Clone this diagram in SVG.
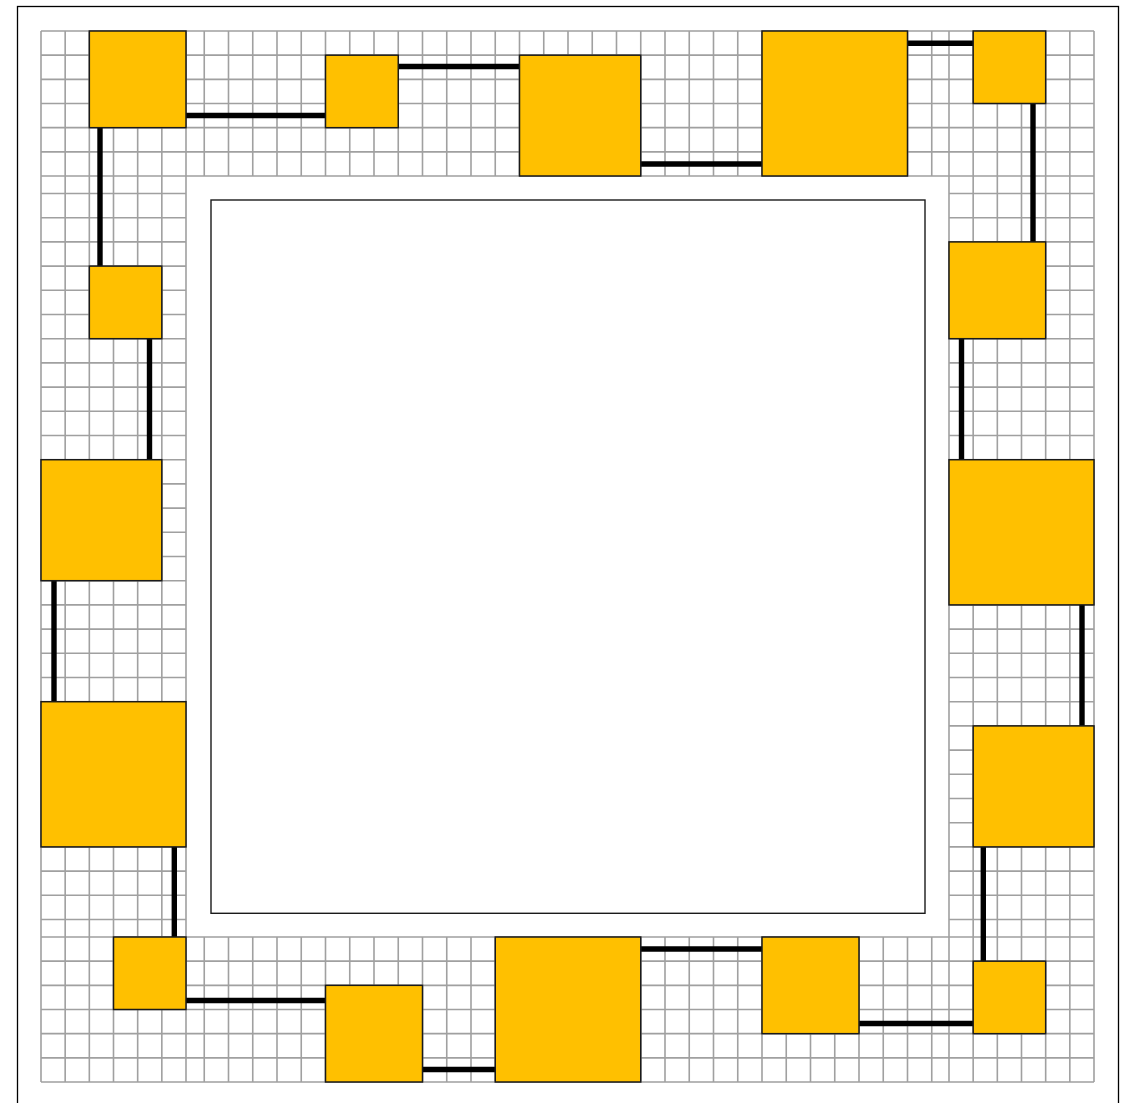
<svg xmlns="http://www.w3.org/2000/svg" width="1132" height="1103" viewBox="0 0 1132 1103">
<style>
.frame{fill:#fff;stroke:#000;stroke-width:1.3}
.grid{fill:none;stroke:#a0a0a0;stroke-width:1.6}
.core{fill:#fff;stroke:#1a1a1a;stroke-width:1.4}
.wire{fill:none;stroke:#000;stroke-width:5.4;stroke-linecap:butt}
.node{fill:#ffc000;stroke:#1a1a1a;stroke-width:1.5}
</style>
<rect class="frame" x="17.5" y="6.5" width="1101" height="1104"/>
<g id="grid">
<path class="grid" d="M41 31H1094M41 55.17H1094M41 79.33H1094M41 103.5H1094M41 127.67H1094M41 151.83H1094M41 176H1094
M41 937H1094M41 961.17H1094M41 985.33H1094M41 1009.5H1094M41 1033.67H1094M41 1057.83H1094M41 1082H1094
M41 31V1082M65.17 31V1082M89.33 31V1082M113.5 31V1082M137.67 31V1082M161.83 31V1082M186 31V1082
M949 31V1082M973.17 31V1082M997.33 31V1082M1021.5 31V1082M1045.67 31V1082M1069.83 31V1082M1094 31V1082"/>
<path class="grid" d="M204.25 31V176M228.5 31V176M252.75 31V176M277 31V176M301.25 31V176M325.5 31V176M349.75 31V176M374 31V176M398.25 31V176M422.5 31V176M446.75 31V176M471 31V176M495.25 31V176M519.5 31V176M543.75 31V176M568 31V176M592.25 31V176M616.5 31V176M640.75 31V176M665 31V176M689.25 31V176M713.5 31V176M737.75 31V176M762 31V176M786.25 31V176M810.5 31V176M834.75 31V176M859 31V176M883.25 31V176M907.5 31V176M931.75 31V176
M204.25 937V1082M228.5 937V1082M252.75 937V1082M277 937V1082M301.25 937V1082M325.5 937V1082M349.75 937V1082M374 937V1082M398.25 937V1082M422.5 937V1082M446.75 937V1082M471 937V1082M495.25 937V1082M519.5 937V1082M543.75 937V1082M568 937V1082M592.25 937V1082M616.5 937V1082M640.75 937V1082M665 937V1082M689.25 937V1082M713.5 937V1082M737.75 937V1082M762 937V1082M786.25 937V1082M810.5 937V1082M834.75 937V1082M859 937V1082M883.25 937V1082M907.5 937V1082M931.75 937V1082"/>
<path class="grid" d="M41 193.5H186M41 217.7H186M41 241.9H186M41 266.1H186M41 290.3H186M41 314.5H186M41 338.7H186M41 362.9H186M41 387.1H186M41 411.3H186M41 435.5H186M41 459.7H186M41 483.9H186M41 508.1H186M41 532.3H186M41 556.5H186M41 580.7H186M41 604.9H186M41 629.1H186M41 653.3H186M41 677.5H186M41 701.7H186M41 725.9H186M41 750.1H186M41 774.3H186M41 798.5H186M41 822.7H186M41 846.9H186M41 871.1H186M41 895.3H186M41 919.5H186
M949 193.5H1094M949 217.7H1094M949 241.9H1094M949 266.1H1094M949 290.3H1094M949 314.5H1094M949 338.7H1094M949 362.9H1094M949 387.1H1094M949 411.3H1094M949 435.5H1094M949 459.7H1094M949 483.9H1094M949 508.1H1094M949 532.3H1094M949 556.5H1094M949 580.7H1094M949 604.9H1094M949 629.1H1094M949 653.3H1094M949 677.5H1094M949 701.7H1094M949 725.9H1094M949 750.1H1094M949 774.3H1094M949 798.5H1094M949 822.7H1094M949 846.9H1094M949 871.1H1094M949 895.3H1094M949 919.5H1094"/>
</g>
<rect id="core" class="core" x="211" y="200" width="714" height="713.3"/>
<g id="connectors">
<path class="wire" d="M100 127.67V266.1"/>
<path class="wire" d="M186 115.5H325.5"/>
<path class="wire" d="M398.25 66.5H519.5"/>
<path class="wire" d="M640.75 164H762"/>
<path class="wire" d="M907.5 43.3H973.17"/>
<path class="wire" d="M1033 103.5V241.9"/>
<path class="wire" d="M961.5 338.7V459.7"/>
<path class="wire" d="M1082 604.9V725.9"/>
<path class="wire" d="M983.3 846.9V961.17"/>
<path class="wire" d="M859 1023.5H973.17"/>
<path class="wire" d="M640.75 949H762"/>
<path class="wire" d="M422.5 1069.5H495.25"/>
<path class="wire" d="M186 1000.5H325.5"/>
<path class="wire" d="M174.3 846.9V937"/>
<path class="wire" d="M54 580.7V701.7"/>
<path class="wire" d="M149.5 338.7V459.7"/>
</g>
<g id="node-a"><rect class="node" x="89.33" y="31" width="96.67" height="96.67"/></g>
<g id="node-b"><rect class="node" x="325.5" y="55.17" width="72.75" height="72.5"/></g>
<g id="node-c"><rect class="node" x="519.5" y="55.17" width="121.25" height="120.83"/></g>
<g id="node-d"><rect class="node" x="762" y="31" width="145.5" height="145"/></g>
<g id="node-e"><rect class="node" x="973.17" y="31" width="72.5" height="72.5"/></g>
<g id="node-f"><rect class="node" x="949" y="241.9" width="96.67" height="96.8"/></g>
<g id="node-g"><rect class="node" x="949" y="459.7" width="145" height="145.2"/></g>
<g id="node-h"><rect class="node" x="973.17" y="725.9" width="120.83" height="121"/></g>
<g id="node-i"><rect class="node" x="973.17" y="961.17" width="72.5" height="72.5"/></g>
<g id="node-j"><rect class="node" x="762" y="937" width="97" height="96.67"/></g>
<g id="node-k"><rect class="node" x="495.25" y="937" width="145.5" height="145"/></g>
<g id="node-l"><rect class="node" x="325.5" y="985.33" width="97" height="96.67"/></g>
<g id="node-m"><rect class="node" x="113.5" y="937" width="72.5" height="72.5"/></g>
<g id="node-n"><rect class="node" x="41" y="701.7" width="145" height="145.2"/></g>
<g id="node-o"><rect class="node" x="41" y="459.7" width="120.83" height="121"/></g>
<g id="node-p"><rect class="node" x="89.33" y="266.1" width="72.5" height="72.6"/></g>
</svg>
